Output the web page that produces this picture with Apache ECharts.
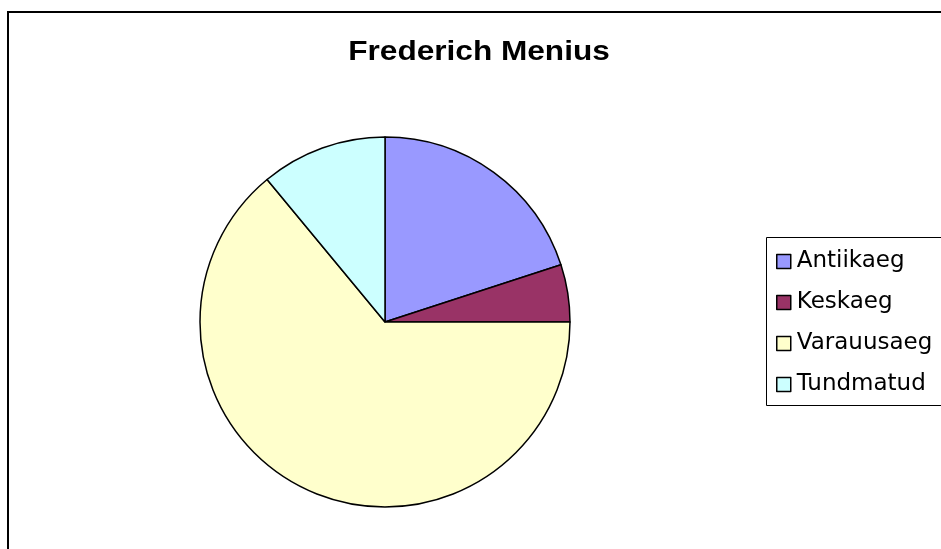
<!DOCTYPE html>
<html lang="et">
<head>
  <meta charset="UTF-8">
  <title>Frederich Menius</title>
  <script src="https://cdn.jsdelivr.net/npm/echarts@6/dist/echarts.min.js"></script>
  <style>
    html, body { margin: 0; padding: 0; background: #fff; }
    #main { width: 941px; height: 549px; }
  </style>
</head>
<body>
<div id="main"></div>
<script>
  // andmed
  var chartTitle = 'Frederich Menius';
  var categories = ['Antiikaeg', 'Keskaeg', 'Varauusaeg', 'Tundmatud'];
  var values = [20, 5, 64, 11];
  var colors = ['#9999FF', '#993366', '#FFFFCC', '#CCFFFF'];

  var myChart = echarts.init(document.getElementById('main'));
  var options = {
    backgroundColor: '#fff',
    animation: false,
    graphic: [
      {
        type: 'rect',
        shape: { x: 8, y: 12, width: 1000, height: 600 },
        style: { fill: 'none', stroke: '#000', lineWidth: 2 },
        z: 0
      },
      {
        type: 'rect',
        shape: { x: 766.5, y: 237.5, width: 300, height: 168 },
        style: { fill: '#fff', stroke: '#000', lineWidth: 1 },
        z: 0
      },
      {
        // titel, laiem nagu Exceli pildil
        type: 'text',
        x: 479,
        y: 53,
        scaleX: 1.17,
        z: 5,
        style: {
          text: chartTitle,
          fontFamily: 'Liberation Sans, Arial, sans-serif',
          fontSize: 27,
          fontWeight: 'bold',
          fill: '#000',
          align: 'center',
          verticalAlign: 'middle'
        }
      }
    ],
    legend: {
      orient: 'vertical',
      left: 771,
      top: 245,
      icon: 'rect',
      itemWidth: 14,
      itemHeight: 14,
      itemGap: 18,
      z: 5,
      itemStyle: { borderColor: '#000', borderWidth: 1.5 },
      textStyle: {
        fontFamily: 'DejaVu Sans, sans-serif',
        fontSize: 23,
        color: '#000',
        padding: [0, 0, 0, 1]
      },
      data: categories
    },
    series: [
      {
        type: 'pie',
        center: [385, 322],
        radius: 185,
        startAngle: 90,
        clockwise: true,
        label: { show: false },
        labelLine: { show: false },
        emphasis: { disabled: true },
        itemStyle: { borderColor: '#000', borderWidth: 1.5 },
        data: categories.map(function (name, i) {
          return { name: name, value: values[i], itemStyle: { color: colors[i] } };
        })
      }
    ]
  };
  myChart.setOption(options);
  window.addEventListener('resize', function () {
    myChart.resize();
  });
</script>
</body>
</html>
